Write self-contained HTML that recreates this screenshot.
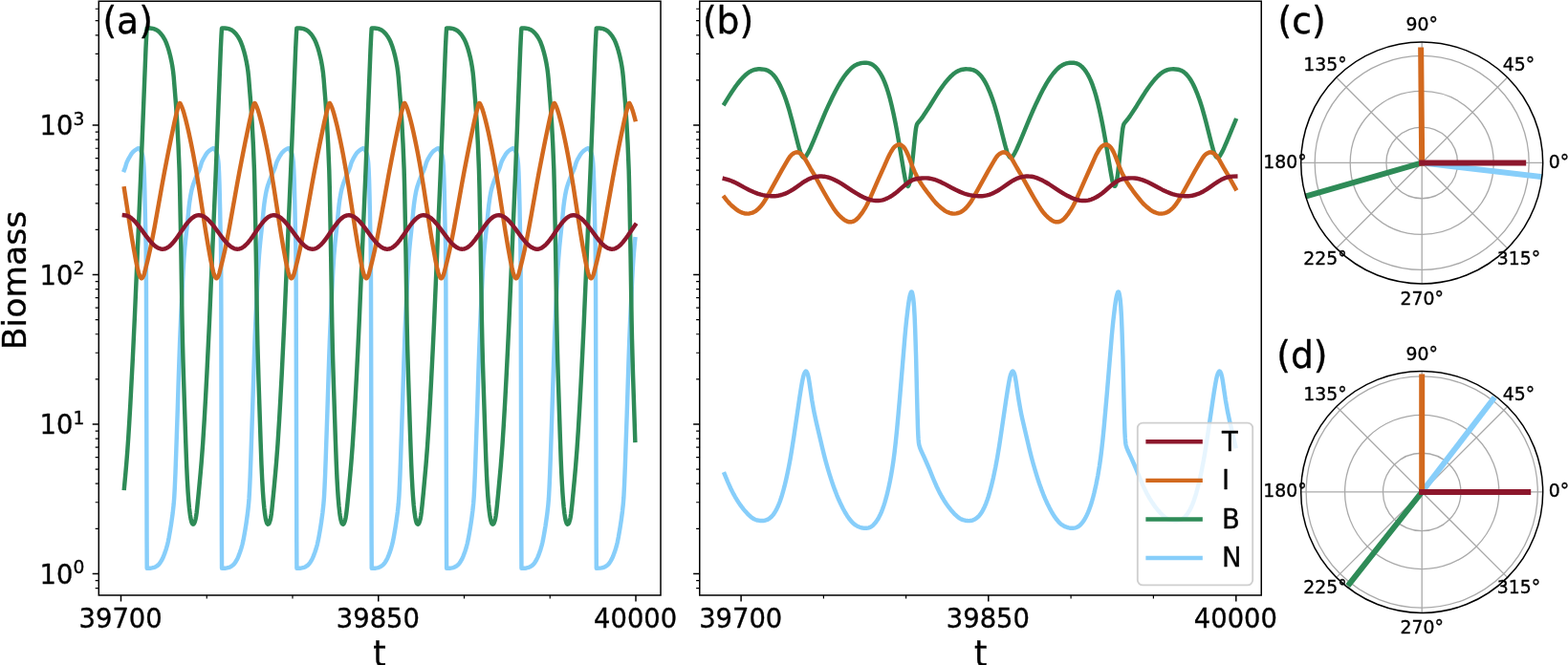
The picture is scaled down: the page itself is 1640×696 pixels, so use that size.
<!DOCTYPE html>
<html lang="en">
<head>
<meta charset="utf-8">
<title>Biomass dynamics</title>
<style>html,body{margin:0;padding:0;background:#fff;}svg{display:block;}</style>
</head>
<body>
<svg width="1640" height="696" viewBox="0 0 1640 696" font-family='"DejaVu Sans", "Liberation Sans", sans-serif' fill="#000">
<style>text{stroke:#000;stroke-width:0.35px;stroke-linejoin:round}</style>
<rect x="0" y="0" width="1640" height="696" fill="#fff"/>
<defs>
<clipPath id="ca"><rect x="103.3" y="1.25" width="587.7" height="621.75"/></clipPath>
<clipPath id="cb"><rect x="731.75" y="1.25" width="587.5" height="621.75"/></clipPath>
</defs>
<polyline clip-path="url(#ca)" fill="none" stroke="#87CEFA" stroke-width="4.45" stroke-linejoin="round" stroke-linecap="square" points="129.9,178.08 131.05,175.11 132.35,170.7 133.05,168.92 134.5,166.01 137.25,161.35 137.95,160.35 138.55,159.63 139.55,158.61 140.55,157.72 141.5,157.02 143.35,155.85 144.15,155.45 144.8,155.25 145.25,155.2 145.5,155.28 145.8,155.54 146.15,156.02 147.8,158.97 148.3,160.14 148.75,161.48 149.25,163.55 149.7,166.44 150.15,170.54 150.4,174.18 150.95,186.31 151.35,200.15 152.2,240 152.6,255.02 152.8,271.45 152.95,300 153.55,565.47 153.7,594.8 157,594.68 159,594.41 161.2,593.86 162.15,593.47 163.1,592.98 164.1,592.35 165.15,591.6 166.25,590.55 167.7,588.63 169.45,585.76 170.15,584.36 170.85,582.77 172.55,578.34 173.85,574.46 175,570.39 175.8,567.02 176.7,562.48 178.15,554.2 179.1,548.25 180.65,537.13 181.65,528.09 182.25,520.51 182.85,509.41 183.45,495.3 184.2,474.79 185.7,430.52 186.95,391.02 188.2,355.59 189.25,330.87 191.55,283.4 192.4,270.36 193.35,258.76 194.1,251.13 195.9,234.51 197.5,217.95 198,213.52 198.5,209.91 199.2,205.45 199.9,201.59 200.5,198.78 201.15,196.24 201.95,193.56 202.85,190.94 205.2,184.87 207.8,179.12 208.75,176.85 209.55,174.65 210.8,170.4 211.4,168.92 212.1,167.43 213,165.75 214.7,162.81 216.2,160.48 216.9,159.63 217.95,158.56 218.9,157.72 219.8,157.06 221.6,155.91 222.45,155.47 223.35,155.21 223.65,155.2 223.9,155.31 224.2,155.6 224.55,156.1 226.05,158.76 226.7,160.27 227.25,162 227.65,163.82 228,166.07 228.35,169.02 228.6,171.82 229.1,181.37 229.5,192.58 230.1,217.25 230.55,240 230.95,255.02 231.1,265.38 231.2,279.24 231.35,318.26 231.9,565.47 232.05,594.8 235.4,594.68 237.4,594.4 239.55,593.86 240.5,593.47 241.5,592.95 242.5,592.32 243.55,591.56 244.65,590.49 245.35,589.62 246.15,588.48 247.85,585.66 248.55,584.25 249.25,582.65 251,578.06 252.3,574.14 253.45,570 254.3,566.31 255.2,561.67 256.6,553.61 257.55,547.58 259,537.13 259.9,529.12 260.5,522 261.05,512.5 261.65,499.06 262.35,480.49 264,432.04 265.7,379.21 266.45,358.22 267.1,342.04 269.3,295.17 269.95,282.52 271,267.06 271.6,259.87 272.25,253.07 274.15,235.48 275.7,219.42 276.35,213.52 277.05,208.58 277.8,204 278.55,200.12 279.25,197.17 280.25,193.71 281.4,190.4 283.6,184.76 286.15,179.12 287.15,176.73 287.9,174.65 289.1,170.55 289.95,168.47 291.4,165.66 293.25,162.48 294.2,160.97 294.85,160.09 295.5,159.36 296.4,158.46 297.3,157.68 298.3,156.96 300.5,155.61 301.45,155.26 301.95,155.2 302.15,155.25 302.45,155.48 302.8,155.94 304.15,158.28 304.8,159.63 305.35,161.15 305.8,162.81 306.15,164.7 306.5,167.24 306.85,170.54 307.3,178.04 307.8,190.88 308.4,215 308.9,240 309.3,255.02 309.5,271.45 309.65,300 310.25,565.47 310.4,594.8 313.75,594.68 315.8,594.39 317.95,593.84 318.9,593.45 319.9,592.92 321.9,591.56 323.05,590.43 323.75,589.55 324.55,588.4 326.25,585.57 326.95,584.14 327.7,582.41 329.45,577.78 330.7,573.97 331.85,569.8 332.7,566.07 333.65,561.12 335.05,553.01 336.05,546.57 337.4,536.74 338.3,528.61 338.9,521.27 339.45,511.49 340.05,497.83 340.7,480.49 342.35,432.04 344.05,379.21 344.8,358.22 345.45,342.04 347.65,295.17 348.3,282.52 349.3,267.7 350.45,254.56 352.55,235 354,219.92 354.65,213.92 355.25,209.57 356,204.86 356.7,201.09 357.4,197.95 358.4,194.35 359.6,190.81 361.9,184.87 364.55,179.01 365.55,176.6 366.25,174.65 367.4,170.7 368.1,168.92 369.45,166.19 372.05,161.74 373.2,160.09 374.5,158.7 376.1,157.34 378.3,155.91 379.45,155.35 379.9,155.24 380.35,155.2 380.55,155.28 380.8,155.48 381.3,156.18 382.65,158.57 383.35,160.14 383.95,162 384.35,163.82 384.75,166.44 385.15,170 385.6,177.01 386.1,189.25 386.55,206.38 387.25,240 387.65,255.02 387.85,271.45 388,300 388.6,565.47 388.75,594.8 392.15,594.68 394.25,594.37 395.55,594.07 396.4,593.81 397.35,593.4 398.35,592.86 400.3,591.52 401.45,590.38 402.2,589.42 403,588.25 404.7,585.38 405.4,583.92 406.15,582.16 407.95,577.35 409.2,573.47 410.35,569.2 411.25,565.09 412.25,559.72 413.55,552.09 414.6,545.2 415.85,535.93 416.75,527.56 417.3,520.51 417.85,510.46 418.45,496.57 419.1,479.07 420.7,432.04 422.35,380.67 423.7,344.39 424.55,325.56 426.6,283.4 427.5,269.68 428.6,256.62 430.9,235 432.35,219.92 432.95,214.33 433.5,210.25 434.25,205.45 434.95,201.59 435.6,198.57 436.65,194.68 437.85,191.08 440.25,184.87 442.9,179.01 443.9,176.6 444.55,174.81 445.65,171.01 446.2,169.51 447.05,167.63 448.1,165.66 450.3,161.9 451.5,160.16 453,158.56 454.55,157.26 457.05,155.69 457.75,155.37 458.35,155.22 458.85,155.25 459.3,155.66 459.75,156.35 461.15,158.86 461.85,160.55 462.45,162.59 462.85,164.7 463.25,167.66 463.55,170.54 463.8,174.18 464.35,186.31 464.8,202.19 465.6,240 465.95,252.71 466.2,271.45 466.35,300 466.95,565.47 467.1,594.8 470.5,594.68 472.7,594.35 473.95,594.06 474.8,593.79 475.8,593.35 476.8,592.8 478.7,591.48 479.3,590.93 479.9,590.26 480.65,589.28 481.5,588.01 482.6,586.2 483.2,585.08 484.65,581.79 486.45,576.92 487.7,572.96 488.8,568.79 489.8,564.07 491.05,557.13 492.25,549.88 493.35,542.36 494.4,534.25 495.2,526.46 495.7,519.72 496.25,509.41 496.85,495.3 497.5,477.65 499.05,432.04 500.65,382.14 502,345.58 502.8,327.67 504.85,285.22 505.65,272.44 506.6,260.43 507.45,251.61 509.3,234.51 510.65,220.42 511.25,214.76 512.35,206.97 512.95,203.44 513.55,200.36 514.1,197.95 514.8,195.35 515.55,192.94 516.45,190.4 518.65,184.76 521.25,179.01 522.25,176.6 522.9,174.81 523.95,171.18 524.45,169.75 525.4,167.63 526.6,165.39 528.4,162.31 529.4,160.76 530.25,159.69 531.55,158.37 533.1,157.12 535.55,155.61 536.2,155.34 536.8,155.21 537.15,155.23 537.45,155.43 538.1,156.35 539.2,158.28 539.7,159.29 540.4,161.15 540.95,163.29 541.45,166.44 541.9,170.54 542.15,174.18 542.45,180.22 542.9,192.58 543.45,215 543.95,240 544.35,255.02 544.55,271.45 544.7,300 545.3,565.47 545.45,594.8 548.75,594.68 550.7,594.42 552.9,593.88 553.8,593.52 554.75,593.03 555.8,592.39 556.85,591.64 557.95,590.61 559.35,588.78 561.05,586.03 562.35,583.36 563.85,579.57 565.3,575.42 566.55,571.15 567.4,567.7 568.2,563.81 569.25,558 570.45,550.84 572.2,538.68 573.25,529.61 573.95,521.27 574.55,510.46 575.15,496.57 575.9,476.22 577.4,432.04 578.75,389.53 580,354.29 581.05,329.8 583.35,282.52 584.2,269.68 585.15,258.22 585.9,250.66 587.65,234.51 589.5,215.63 590.25,209.91 591.25,203.72 592.15,199.21 593.15,195.35 594.4,191.5 596.55,185.86 597.5,183.6 599.75,178.66 600.75,176.2 601.35,174.49 602.4,170.86 602.95,169.39 603.85,167.43 605,165.31 607.1,161.74 608.35,159.97 609.8,158.46 611.25,157.26 613.7,155.71 614.35,155.41 614.95,155.24 615.35,155.2 615.6,155.28 615.9,155.54 616.2,155.94 617.8,158.76 618.25,159.76 618.65,160.84 619.15,162.59 619.55,164.7 619.95,167.66 620.3,171.15 620.8,180.22 621.25,192.58 621.85,217.25 622.3,240 622.7,255.02 622.9,271.45 623.05,300 623.65,565.47 623.8,594.8 627.7,594.63 629.25,594.38 630.9,593.99 632.05,593.56 633.25,592.95 634.55,592.11 635.7,591.22 636.55,590.32 637.5,589.07 638.6,587.37 639.7,585.47 640.4,584.03 641.2,582.16 643.1,577.07 644.55,572.43 645.8,567.48 646.95,561.67 648.5,552.7 649.8,544.15 651,535.1 651.8,527.56 652.35,520.51 653.05,507.24 653.9,486.04 655.75,432.04 657.55,376.31 658.3,355.59 659,338.59 661.15,293.09 661.8,280.82 662.35,272.44 662.95,264.55 663.6,257.14 664.3,250.19"/>
<polyline clip-path="url(#ca)" fill="none" stroke="#2E8B57" stroke-width="4.45" stroke-linejoin="round" stroke-linecap="square" points="129.9,510.95 131.4,494.81 132.3,484.38 133.3,471.56 134.2,458.6 135.2,442.63 136.4,421.8 138.8,375.91 141,329.32 147.1,187.22 152.5,50.65 153.2,36.58 153.6,30.35 153.7,29.52 153.8,29.4 156.9,29.55 158.7,29.72 159.7,29.9 160.8,30.19 162,30.61 163.5,31.25 164.3,31.69 165.3,32.41 166.3,33.29 167.5,34.51 168.8,35.95 170.4,38.11 172,40.79 172.8,42.34 173.6,44.13 174.5,46.39 175.4,48.89 176.7,53.13 178.1,58.51 179.3,63.9 180.3,69.44 181.1,75.03 181.7,80.57 183.9,107.87 185.3,128.65 186.5,151.36 187.6,178.32 188.1,197.24 188.8,231.58 189.5,269.49 190.5,335.05 191,358.73 191.5,377.73 192.1,397.4 194.3,463.89 195.2,487.76 195.9,502.72 196.6,514.82 197.3,524.43 198,532 198.8,538.58 199.7,543.76 200.2,545.71 200.7,547.22 201,547.8 201.6,548.51 201.9,548.69 202.2,548.65 202.6,548.33 203.1,547.7 203.6,546.52 204.3,544.31 204.7,542.67 205.1,540.42 205.6,536.97 206.1,532.76 208.1,512.56 209.8,494.25 210.7,483.77 212.2,463.82 213.8,438.42 215.1,415.44 216.4,390.8 219.1,334.95 225.9,176.43 230.8,51.81 231.5,37.42 231.9,30.99 232,29.84 232.1,29.4 235.2,29.54 237,29.72 238,29.89 239.2,30.21 240.4,30.63 241.9,31.27 242.7,31.72 243.7,32.45 244.7,33.34 245.9,34.56 247.2,36 248.8,38.19 250.5,41.06 251.3,42.66 252.1,44.49 253.8,49.04 255.1,53.31 256.6,59.13 257.7,64.15 258.7,69.75 259.5,75.43 260.1,81.11 262.2,107.21 263.6,127.82 264.8,150.29 265.9,176.8 266.4,195.08 267.1,228.95 267.9,272.53 268.9,337.89 269.4,360.77 270.5,398.93 272.6,462.44 273.5,486.58 274.2,501.76 274.9,514.03 275.6,523.82 276.3,531.53 277.1,538.23 278,543.52 278.4,545.18 279,547.1 279.3,547.73 279.9,548.47 280.3,548.7 280.6,548.63 280.9,548.39 281.4,547.78 281.9,546.66 282.6,544.49 283,542.9 283.4,540.73 283.9,537.34 284.4,533.21 286.4,513.09 288.1,494.81 289,484.38 290.5,464.55 292.1,439.27 293.4,416.36 294.7,391.78 297.4,336.06 304.2,177.64 309.2,50.65 309.9,36.58 310.3,30.35 310.4,29.52 310.5,29.4 313.6,29.55 315.4,29.72 316.4,29.9 317.5,30.19 318.7,30.61 320.2,31.25 321,31.69 322,32.41 323,33.29 324.2,34.51 325.6,36.06 327.2,38.26 328.9,41.16 329.7,42.76 330.5,44.61 332.2,49.19 333.5,53.49 335,59.34 336.1,64.4 337.1,70.07 337.9,75.84 338.5,81.66 340.6,107.87 342,128.65 343.2,151.36 344.3,178.32 344.8,197.24 345.5,231.58 346.2,269.49 347.2,335.05 347.7,358.73 348.2,377.73 348.8,397.4 350.9,460.97 351.8,485.4 352.5,500.78 353.1,511.6 353.7,520.6 354.5,530.05 355.3,537.12 355.7,539.9 356.2,542.77 356.6,544.62 357.2,546.68 357.6,547.64 358,548.19 358.3,548.51 358.6,548.69 358.8,548.69 359.1,548.52 359.8,547.7 360.4,546.22 361,544.31 361.5,542.16 362.1,538.41 362.6,534.53 363.3,528.06 364.6,514.68 366.3,496.46 367.3,484.99 368.8,465.27 370.4,440.11 371.7,417.27 373,392.75 374.5,362.64 375.8,334.95 382.6,176.43 387.5,51.81 388.2,37.42 388.6,30.99 388.7,29.84 388.8,29.4 391.9,29.54 393.7,29.72 394.7,29.89 395.9,30.21 397.1,30.63 398.6,31.27 399.4,31.72 400.4,32.45 401.4,33.34 402.6,34.56 403.9,36 405.5,38.19 407.2,41.06 408,42.66 408.8,44.49 410.5,49.04 411.8,53.31 413.3,59.13 414.4,64.15 415.4,69.75 416.2,75.43 416.8,81.11 418.9,107.21 420.3,127.82 421.5,150.29 422.6,176.8 423.1,195.08 423.8,228.95 424.6,272.53 425.6,337.89 426.1,360.77 427.2,398.93 429.2,459.5 430.1,484.21 430.8,499.77 431.4,510.77 432,519.93 432.7,528.47 433.5,535.94 434.3,541.4 435,544.81 435.6,546.83 436,547.73 436.6,548.47 436.9,548.67 437.1,548.7 437.4,548.56 437.8,548.16 438.1,547.78 438.4,547.19 439.2,544.83 439.7,542.9 440.2,540.1 440.8,535.79 441.6,528.56 442.9,515.2 445.5,486.8 447,467.41 448.5,444.29 449.8,421.8 451.2,395.66 452.7,365.73 454.1,336.06 460.9,177.64 465.9,50.65 466.6,36.58 467,30.35 467.1,29.52 467.2,29.4 470.3,29.55 472.1,29.72 473.1,29.9 474.2,30.19 475.4,30.61 476.9,31.25 477.7,31.69 478.7,32.41 479.7,33.29 480.9,34.51 482.3,36.06 483.9,38.26 485.6,41.16 486.4,42.76 487.2,44.61 488.9,49.19 490.2,53.49 491.7,59.34 492.8,64.4 493.8,70.07 494.6,75.84 495.2,81.66 497.3,107.87 498.7,128.65 499.9,151.36 501,178.32 501.5,197.24 502.2,231.58 502.9,269.49 503.9,335.05 504.4,358.73 504.9,377.73 505.5,397.4 507.5,458.02 508.4,483 509.1,498.76 509.7,509.92 510.3,519.24 511,527.92 511.8,535.53 512.5,540.51 513.3,544.62 513.8,546.38 514.2,547.45 514.4,547.8 514.9,548.42 515.2,548.65 515.4,548.7 515.7,548.6 516,548.33 516.4,547.85 516.7,547.3 517.6,544.66 518.1,542.67 518.6,539.77 519.2,535.37 519.9,529.05 521.2,515.72 523.8,487.4 525.4,466.7 526.9,443.46 528.2,420.9 529.6,394.69 531.1,364.7 532.5,334.95 539.3,176.43 544.2,51.81 544.9,37.42 545.3,30.99 545.4,29.84 545.5,29.4 548.6,29.54 550.4,29.72 551.4,29.89 552.6,30.21 553.8,30.63 555.3,31.27 556.1,31.72 557.1,32.45 558.1,33.34 559.3,34.56 560.7,36.13 562.3,38.34 564,41.25 564.8,42.87 565.6,44.73 567.3,49.34 568.7,54.04 570.2,59.98 571.3,65.18 572.3,71.04 573,76.25 573.6,82.22 575.7,108.55 577,127.82 578.2,150.29 579.3,176.8 579.9,199.44 580.6,234.23 581.3,272.53 582.2,332.11 582.7,356.66 583.2,375.95 583.8,395.85 585.9,459.5 586.7,481.77 587.3,495.61 587.8,505.51 588.4,515.59 589,523.82 589.6,530.55 590.4,537.5 591.1,541.97 591.8,545.18 592.5,547.34 592.8,547.87 593.3,548.47 593.7,548.7 594,548.63 594.3,548.39 594.8,547.78 595.1,547.19 595.4,546.37 596.3,543.34 596.7,541.33 597.3,537.34 598.4,527.55 600.8,502.43 602,489.16 603.5,470.19 604.9,449.19 606.3,425.38 607.7,399.5 609.2,369.82 610.7,338.27 617.6,177.64 622.6,50.65 623.3,36.58 623.7,30.35 623.8,29.52 623.9,29.4 627,29.55 628.8,29.72 629.8,29.9 630.9,30.19 632.1,30.61 633.6,31.25 634.4,31.69 635.4,32.41 636.4,33.29 637.6,34.51 638.9,35.95 640.5,38.11 642.1,40.79 642.9,42.34 643.7,44.13 644.6,46.39 645.5,48.89 646.8,53.13 648.2,58.51 649.4,63.9 650.4,69.44 651.2,75.03 651.8,80.57 654,107.87 655.4,128.65 656.6,151.36 657.7,178.32 658.3,201.7 659,236.89 659.6,269.49 660.6,335.05 661,354.55 662,391.12 664.3,460.97"/>
<polyline clip-path="url(#ca)" fill="none" stroke="#D2691E" stroke-width="4.45" stroke-linejoin="round" stroke-linecap="square" points="129.9,197.35 135.3,232.53 137.7,247.6 139.9,260.45 141.7,270.35 142.9,276.5 143.7,280.16 144.9,285.13 145.5,287.24 145.9,288.29 146.9,290.17 147.3,290.76 147.7,291.15 148.1,291.3 148.3,291.26 148.7,290.98 149.1,290.48 150.3,288.29 150.7,287.21 151.1,285.82 154.5,272.21 157.1,260.77 159.3,250.07 161.7,237.47 169.5,193.71 172.1,179.51 175.5,161.95 178.9,144.97 182.5,127.73 184.5,119 186.5,111.27 187.1,109.3 187.3,108.78 187.7,108.15 187.9,107.95 188.1,107.91 188.3,108.07 188.9,109.04 190.5,112.63 191.5,115.46 192.7,119.47 194.1,124.7 195.9,131.95 197.3,138.05 198.9,145.46 200.5,153.21 202.1,161.42 205.3,179.18 208.1,196.4 213.5,231.56 215.7,245.46 217.9,258.48 220.5,272.73 222.1,280.37 223.3,285.33 223.9,287.39 224.3,288.4 224.7,289.18 225.3,290.25 225.7,290.82 226.1,291.19 226.3,291.28 226.5,291.3 226.9,291.12 227.5,290.41 228.5,288.6 228.9,287.66 229.3,286.37 232.7,272.83 235.3,261.46 237.5,250.83 240.1,237.2 247.9,193.43 250.5,179.24 253.7,162.71 256.7,147.67 260.7,128.43 262.7,119.59 264.9,111.09 265.3,109.76 265.7,108.67 265.9,108.36 266.3,107.92 266.5,107.93 266.7,108.14 267.3,109.14 268.7,112.25 269.7,115 270.9,118.94 272.3,124.12 274.1,131.32 275.7,138.28 277.3,145.7 278.9,153.46 280.5,161.69 283.7,179.48 286.5,196.71 291.7,230.59 293.9,244.54 296.1,257.63 298.7,271.94 300.3,279.72 301.5,284.74 302.3,287.53 302.9,288.89 303.9,290.63 304.5,291.22 304.9,291.29 305.1,291.22 305.7,290.63 306.7,288.89 307.1,288.06 307.7,286.19 311.1,272.63 313.7,261.23 315.9,250.57 318.5,236.93 326.3,193.15 328.9,178.98 332.1,162.45 335.3,146.44 339.1,128.19 341.1,119.39 343.3,110.91 343.7,109.6 344.1,108.58 344.3,108.28 344.5,108.04 344.7,107.91 344.9,107.97 345.3,108.52 345.7,109.24 347.1,112.37 348.1,115.15 349.3,119.11 350.7,124.31 352.5,131.53 354.1,138.5 355.9,146.89 357.5,154.71 358.9,161.95 362.1,179.77 364.9,197.03 370.1,230.91 372.3,244.85 374.5,257.92 377.1,272.2 378.7,279.94 379.9,284.94 380.5,287.08 381.1,288.6 382.1,290.41 382.7,291.12 383.1,291.3 383.3,291.28 383.5,291.19 383.9,290.82 384.5,289.92 385.3,288.4 385.9,286.72 389.3,273.25 391.9,261.92 393.9,252.33 396.1,240.96 398.5,227.86 406.5,182.99 409.7,166.28 413.3,148.16 417.3,128.9 419.3,120 421.9,110.08 422.3,108.89 422.5,108.5 422.9,107.99 423.1,107.9 423.3,108.02 423.9,108.94 425.3,112 426.3,114.7 427.5,118.59 428.9,123.73 430.7,130.9 432.3,137.83 433.9,145.22 435.5,152.96 437.1,161.16 438.9,170.92 440.5,180.06 443.3,197.35 448.5,231.24 450.7,245.16 452.9,258.2 455.5,272.47 457.1,280.16 458.3,285.13 458.9,287.24 459.3,288.29 460.5,290.48 461.1,291.15 461.5,291.3 461.7,291.26 461.9,291.15 462.3,290.76 462.9,289.83 463.7,288.29 464.3,286.55 467.7,273.04 470.3,261.69 472.5,251.08 475.1,237.47 482.9,193.71 485.5,179.51 488.7,162.96 491.7,147.91 495.7,128.66 497.7,119.8 499.9,111.27 500.3,109.92 500.7,108.78 500.9,108.43 501.3,107.95 501.5,107.91 501.7,108.07 502.3,109.04 503.7,112.12 504.7,114.85 505.9,118.76 507.3,123.92 509.1,131.11 510.7,138.05 512.5,146.41 514.1,154.21 515.7,162.48 518.9,180.36 521.7,197.67 526.7,230.27 528.9,244.23 531.1,257.35 533.7,271.68 535.3,279.5 536.5,284.54 537.1,286.76 537.7,288.4 538.7,290.25 539.3,291.03 539.7,291.28 539.9,291.3 540.1,291.24 540.5,290.93 541.1,290.09 542.1,288.18 542.5,287.05 545.9,273.66 548.5,262.38 550.7,251.83 553.3,238.28 555.7,225.06 561.3,193.43 563.9,179.24 567.1,162.71 570.3,146.68 574.1,128.43 576.1,119.59 578.3,111.09 578.7,109.76 579.1,108.67 579.3,108.36 579.7,107.92 579.9,107.93 580.1,108.14 580.7,109.14 582.1,112.25 583.1,115 584.3,118.94 585.7,124.12 587.5,131.32 589.1,138.28 590.9,146.65 592.5,154.46 594.1,162.75 597.3,180.66 599.9,196.71 605.1,230.59 607.3,244.54 609.5,257.63 612.1,271.94 613.7,279.72 614.9,284.74 615.5,286.93 616.1,288.5 617.1,290.33 617.7,291.08 618.1,291.29 618.3,291.29 618.5,291.22 618.9,290.88 619.5,290 620.5,288.06 620.9,286.89 624.5,272.63 626.1,265.76 627.5,259.37 629.5,249.56 631.7,238.01 640.9,186.52 642.9,175.82 645.5,162.45 649.1,144.48 652.9,126.34 654.3,120.21 656.7,110.91 657.3,109.02 657.5,108.58 657.9,108.04 658.1,107.91 658.3,107.97 658.9,108.85 660.3,111.88 661.5,115.15 662.7,119.11 664.3,125.09"/>
<polyline clip-path="url(#ca)" fill="none" stroke="#8C172C" stroke-width="4.45" stroke-linejoin="round" stroke-linecap="square" points="129.9,225.26 131.4,225.42 132.4,225.67 133.4,226.01 134.9,226.72 136.4,227.65 137.4,228.39 138.9,229.65 140.4,231.1 142.4,233.27 144.9,236.31 147.4,239.6 152.9,247.09 155.9,250.95 158.4,253.85 160.9,256.34 162.4,257.6 163.4,258.33 164.4,258.97 165.4,259.51 166.4,259.96 167.9,260.44 169.9,260.7 170.9,260.66 171.9,260.52 172.9,260.24 173.9,259.85 174.9,259.34 175.9,258.71 176.9,257.99 178.4,256.7 179.9,255.19 180.9,254.08 183.4,251 185.9,247.56 193.4,236.7 195.9,233.42 197.9,231.08 199.4,229.54 200.4,228.63 201.4,227.81 202.9,226.79 204.4,226.01 205.4,225.65 206.4,225.4 207.4,225.27 208.4,225.26 209.9,225.44 210.9,225.71 211.9,226.07 213.4,226.8 214.4,227.42 215.4,228.12 216.9,229.34 218.4,230.75 219.4,231.78 221.9,234.63 224.9,238.46 232.9,249.26 235.4,252.33 237.9,255.05 239.4,256.48 240.9,257.72 242.4,258.76 243.4,259.33 244.9,260.02 245.9,260.35 246.9,260.56 248.4,260.7 249.4,260.64 250.4,260.49 251.4,260.19 252.4,259.78 253.4,259.25 254.9,258.25 256.9,256.55 258.4,255.03 259.4,253.91 261.9,250.8 264.4,247.35 269.9,239.32 271.9,236.5 274.4,233.24 276.4,230.92 277.9,229.4 278.9,228.5 279.9,227.7 281.4,226.7 282.9,225.95 283.9,225.6 284.9,225.38 285.9,225.26 286.9,225.28 288.4,225.48 289.4,225.76 290.4,226.13 291.4,226.62 292.4,227.19 293.4,227.86 294.9,229.04 296.4,230.41 297.4,231.41 298.9,233.05 300.4,234.81 303.4,238.66 308.9,246.15 311.4,249.45 313.9,252.5 316.4,255.2 317.9,256.61 319.4,257.83 320.9,258.85 321.9,259.41 322.9,259.88 324.4,260.39 325.4,260.58 326.9,260.7 327.9,260.62 328.9,260.45 329.9,260.13 330.9,259.71 331.9,259.16 333.4,258.14 335.4,256.41 337.4,254.31 339.9,251.26 342.9,247.13 348.4,239.1 350.4,236.29 352.9,233.05 354.9,230.76 356.4,229.25 357.4,228.37 358.9,227.24 359.9,226.61 360.9,226.1 362.4,225.55 363.4,225.36 364.4,225.26 365.4,225.29 366.9,225.51 367.9,225.81 368.9,226.2 369.9,226.69 370.9,227.29 371.9,227.97 373.4,229.17 374.9,230.55 375.9,231.57 377.4,233.22 378.9,235 381.9,238.86 387.4,246.35 389.9,249.64 392.4,252.68 394.9,255.35 396.4,256.74 397.4,257.56 398.4,258.3 399.9,259.23 401.4,259.94 402.4,260.28 403.4,260.53 404.9,260.69 405.9,260.66 406.9,260.53 407.9,260.25 408.9,259.87 409.9,259.36 410.9,258.75 411.9,258.02 413.4,256.74 414.9,255.25 415.9,254.14 418.4,251.06 421.4,246.92 428.4,236.77 430.9,233.48 432.9,231.14 434.4,229.59 435.4,228.67 436.4,227.85 437.9,226.82 439.4,226.03 440.4,225.66 441.4,225.41 442.4,225.28 443.4,225.26 444.9,225.43 445.9,225.7 446.9,226.05 448.4,226.78 449.4,227.39 450.4,228.08 451.9,229.3 453.4,230.7 454.4,231.73 455.9,233.39 457.4,235.18 460.4,239.06 467.9,249.19 470.4,252.27 472.9,255 474.4,256.43 475.9,257.68 477.4,258.73 478.4,259.31 479.9,260 480.9,260.33 481.9,260.55 483.4,260.7 484.4,260.65 485.4,260.5 486.4,260.2 487.4,259.8 488.4,259.28 489.4,258.64 490.4,257.91 491.9,256.6 493.4,255.09 494.4,253.97 496.9,250.86 499.4,247.42 504.9,239.39 506.9,236.57 508.9,233.92 510.9,231.53 511.9,230.44 513.4,228.98 514.4,228.12 515.4,227.37 516.4,226.73 517.9,225.97 518.9,225.61 519.9,225.38 521.4,225.25 522.4,225.32 523.4,225.46 524.9,225.91 526.4,226.59 527.4,227.16 528.4,227.83 529.9,229 530.9,229.88 532.4,231.36 533.9,232.99 535.4,234.75 538.4,238.59 543.9,246.08 546.4,249.38 548.9,252.44 551.4,255.15 552.9,256.56 553.9,257.4 554.9,258.16 556.4,259.12 557.9,259.86 558.9,260.22 559.9,260.5 561.4,260.68 562.4,260.68 563.9,260.46 564.9,260.15 565.9,259.73 566.9,259.19 568.4,258.18 570.4,256.46 571.4,255.46 572.9,253.79 575.4,250.67 577.9,247.21 584.9,237.05 587.4,233.73 589.4,231.36 590.9,229.78 591.9,228.85 592.9,228 593.9,227.27 594.9,226.64 595.9,226.12 596.9,225.73 597.9,225.44 599.4,225.26 600.4,225.28 601.9,225.5 603.4,225.97 604.9,226.67 605.9,227.26 606.9,227.94 608.4,229.12 609.9,230.5 610.9,231.51 612.4,233.16 613.9,234.94 616.9,238.79 624.4,248.93 626.9,252.03 628.9,254.28 629.9,255.3 631.4,256.7 632.9,257.9 633.9,258.6 634.9,259.2 636.4,259.92 637.4,260.27 638.4,260.52 639.9,260.69 640.9,260.67 642.4,260.43 643.4,260.1 644.4,259.66 645.9,258.78 647.4,257.66 648.9,256.31 649.9,255.3 651.4,253.62 653.9,250.47 656.4,246.99 661.9,238.96 664.3,235.62"/>
<path d="M103.3,600.4h-6.6M103.3,443.93h-6.6M103.3,287.46h-6.6M103.3,130.99h-6.6" stroke="#000" stroke-width="1.5" fill="none"/>
<path d="M103.3,615.56h-3.6M103.3,607.56h-3.6M103.3,553.3h-3.6M103.3,525.74h-3.6M103.3,506.2h-3.6M103.3,491.03h-3.6M103.3,478.64h-3.6M103.3,468.17h-3.6M103.3,459.09h-3.6M103.3,451.09h-3.6M103.3,396.83h-3.6M103.3,369.27h-3.6M103.3,349.73h-3.6M103.3,334.56h-3.6M103.3,322.17h-3.6M103.3,311.7h-3.6M103.3,302.62h-3.6M103.3,294.62h-3.6M103.3,240.36h-3.6M103.3,212.8h-3.6M103.3,193.26h-3.6M103.3,178.09h-3.6M103.3,165.7h-3.6M103.3,155.23h-3.6M103.3,146.15h-3.6M103.3,138.15h-3.6M103.3,83.89h-3.6M103.3,56.33h-3.6M103.3,36.79h-3.6M103.3,21.62h-3.6M103.3,9.23h-3.6" stroke="#000" stroke-width="1.2" fill="none"/>
<path d="M126.5,623v6.6M395.75,623v6.6M665,623v6.6" stroke="#000" stroke-width="1.5" fill="none"/>
<path d="M216.25,623v3.6M306,623v3.6M485.5,623v3.6M575.25,623v3.6" stroke="#000" stroke-width="1.2" fill="none"/>
<rect x="103.3" y="1.25" width="587.7" height="621.75" fill="none" stroke="#000" stroke-width="1.5"/>
<text transform="translate(126.1,657) scale(1,1.06)" font-size="27.4" text-anchor="middle">39700</text>
<text transform="translate(395.35,657) scale(1,1.06)" font-size="27.4" text-anchor="middle">39850</text>
<text transform="translate(664.6,657) scale(1,1.06)" font-size="27.4" text-anchor="middle">40000</text>
<text transform="translate(41.6,610.5) scale(1,1.06)" font-size="27.4">10<tspan x="34.8" dy="-9.7" font-size="18.7">0</tspan></text>
<text transform="translate(41.6,454.03) scale(1,1.06)" font-size="27.4">10<tspan x="34.8" dy="-9.7" font-size="18.7">1</tspan></text>
<text transform="translate(41.6,297.56) scale(1,1.06)" font-size="27.4">10<tspan x="34.8" dy="-9.7" font-size="18.7">2</tspan></text>
<text transform="translate(41.6,141.09) scale(1,1.06)" font-size="27.4">10<tspan x="34.8" dy="-9.7" font-size="18.7">3</tspan></text>
<text transform="translate(397,697.2) scale(1,1.08)" font-size="34.25" text-anchor="middle">t</text>
<text transform="translate(27.4,293.5) rotate(-90)" font-size="34.55" text-anchor="middle">Biomass</text>
<text transform="translate(107.4,34.7) scale(1,1.02)" font-size="37.7">(a)</text>
<polyline clip-path="url(#cb)" fill="none" stroke="#87CEFA" stroke-width="4.45" stroke-linejoin="round" stroke-linecap="square" points="757.8,496.12 761.3,504.58 764.3,511.23 765.8,514.28 767.3,517.16 768.9,520.04 770.5,522.74 772.2,525.43 774,528.08 775.9,530.68 777.8,533.11 779.7,535.37 781.5,537.34 783.3,539.13 785.1,540.74 786.6,541.92 787.9,542.79 789.2,543.48 790.6,544.03 792.4,544.52 794.6,544.91 796.5,545.09 798.2,545.06 799.6,544.85 801,544.47 802.4,543.91 803.8,543.17 805.1,542.3 806.3,541.31 807.5,540.13 808.6,538.84 809.5,537.63 810.4,536.27 812.2,533.09 814,529.27 815.7,525 817.3,520.32 818.9,514.97 820.5,508.94 822.2,501.86 823.7,495.03 825.2,487.6 826.6,480.04 827.9,472.43 830.3,457.04 836.3,416.23 837.8,406.72 839,399.75 840,394.86 840.4,393.32 840.9,391.75 841.5,390.32 842.2,389.09 842.6,388.62 842.8,388.51 843,388.51 843.3,388.71 843.6,389.08 844.4,390.57 844.9,392.02 845.4,394.01 845.9,396.61 846.4,399.69 849.3,419.07 850.7,427.06 851.8,432.84 853.9,442.46 860.1,468.83 861.9,476.15 863.6,482.58 865.5,489.31 867.6,496.31 869.6,502.6 871.5,508.2 873.4,513.43 875.3,518.29 877.3,523.03 879.5,527.83 881.7,532.23 883.9,536.26 886,539.71 888.1,542.75 890.2,545.38 892.2,547.47 893.2,548.35 894.2,549.13 895.4,549.93 896.7,550.67 898,551.28 899.3,551.77 900.8,552.21 902.3,552.54 903.8,552.76 905.1,552.83 906.3,552.78 907.5,552.61 908.7,552.31 909.8,551.92 910.8,551.45 911.8,550.84 912.7,550.16 913.6,549.35 915,547.84 916.5,545.89 917.9,543.77 919.3,541.33 920.6,538.74 921.9,535.81 923.1,532.77 924.3,529.38 925.5,525.62 926.7,521.46 927.9,516.88 929,512.29 930.1,507.3 931.1,502.36 932.1,497 933.1,491.15 934.4,482.57 935.6,473.39 936.8,462.81 938.1,449.91 939.5,434.79 941.2,415.39 946.4,352.92 947.2,344.08 948.1,335.23 949.7,321.77 950.4,316.64 951,312.83 951.6,309.93 952.4,307.06 952.9,305.85 953.2,305.48 953.4,305.4 953.6,305.51 953.8,305.82 954,306.32 954.3,307.4 954.8,309.92 955.3,313.2 955.6,315.9 956,320.68 956.6,330.64 957.1,342.62 958.1,373.06 959.4,426.52 960,447.64 960.3,454.99 960.6,459.9 960.9,463.24 961.3,465.62 962.1,468.37 963.1,471.04 966.7,478.79 970,486.23 972.1,491.2 976.2,501.26 978.2,505.96 979.9,509.74 981.5,513.08 983.2,516.41 984.9,519.51 987.4,523.71 989.9,527.51 992.6,531.21 995.5,534.79 998.2,537.76 1000.8,540.22 1002.1,541.31 1003.2,542.14 1004.3,542.85 1005.3,543.38 1007.2,544.12 1009.5,544.68 1012.1,545.04 1013.2,545.1 1014.3,545.07 1016,544.83 1017.8,544.29 1019.6,543.46 1021.3,542.38 1022.9,541.04 1024.4,539.45 1025.8,537.63 1027.2,535.45 1028.6,532.9 1030,529.95 1031.3,526.84 1032.6,523.32 1033.7,520.01 1034.7,516.72 1036.8,508.94 1039,499.64 1041.2,489.14 1043.1,478.9 1045.1,466.84 1046.9,455.03 1052.3,418.21 1053.8,408.56 1055.1,400.85 1056.1,395.73 1056.5,394.06 1057,392.34 1057.6,390.75 1058.2,389.59 1058.8,388.71 1059,388.56 1059.2,388.5 1059.5,388.62 1059.8,388.94 1060.6,390.34 1061.2,392.02 1061.7,394.01 1062.6,399.05 1064.7,413.32 1065.7,419.67 1067.1,427.61 1068.2,433.33 1069.2,438.06 1070.4,443.32 1076.6,469.66 1078.8,478.48 1080.7,485.47 1082.8,492.69 1085,499.82 1087.1,506.18 1089.2,512.09 1091.2,517.3 1093.3,522.34 1095.4,526.99 1097.8,531.84 1100.2,536.26 1102.4,539.87 1104.6,543.01 1106.8,545.72 1107.9,546.89 1108.9,547.84 1109.9,548.67 1111,549.48 1112.2,550.23 1113.4,550.87 1114.8,551.48 1116.3,551.99 1117.9,552.4 1119.5,552.69 1120.9,552.81 1122.2,552.81 1123.5,552.66 1124.7,552.4 1125.9,552 1127,551.5 1128,550.91 1129,550.16 1130,549.25 1131,548.19 1132.1,546.84 1133.1,545.46 1134.4,543.44 1135.6,541.33 1136.8,538.95 1138,536.29 1139.1,533.57 1140.2,530.55 1141.3,527.23 1142.3,523.93 1143.4,519.98 1144.4,516.07 1146.4,507.3 1148.3,497.56 1150,487.34 1151.2,478.91 1152.3,470.02 1153.4,459.96 1154.7,446.76 1157.7,413.05 1162.7,352.92 1163.5,344.08 1164.3,336.16 1165.9,322.55 1166.6,317.33 1167.2,313.41 1167.8,310.35 1168.5,307.7 1169.1,306.04 1169.4,305.57 1169.6,305.42 1169.8,305.43 1170,305.64 1170.3,306.32 1170.5,307 1171,309.36 1171.6,313.2 1171.9,315.9 1172.3,320.68 1172.9,330.64 1173.4,342.62 1174.4,373.06 1175.7,426.52 1176.3,447.64 1176.5,452.88 1176.8,458.44 1177.1,462.3 1177.4,464.6 1177.7,466.04 1178,467.12 1178.7,469.24 1179.4,471.04 1182.9,478.57 1186.1,485.76 1188.2,490.72 1193.3,503.17 1195,507.09 1196.6,510.59 1199.4,516.22 1202.4,521.58 1205.4,526.33 1207,528.64 1208.6,530.81 1211.6,534.56 1214.4,537.66 1215.8,539.04 1217.2,540.31 1218.6,541.47 1219.8,542.34 1220.8,542.96 1221.8,543.48 1222.8,543.89 1223.9,544.24 1225.3,544.58 1226.9,544.87 1228.4,545.04 1229.7,545.1 1230.9,545.05 1232,544.89 1233.1,544.63 1234.3,544.21 1235.5,543.67 1236.6,543.05 1237.7,542.3 1238.7,541.49 1239.7,540.55 1240.6,539.56 1241.5,538.45 1242.4,537.19 1244.1,534.4 1245.8,531.05 1247.2,527.84 1248.6,524.17 1249.9,520.32 1251.2,516.03 1252.5,511.28 1253.9,505.69 1255.3,499.64 1256.7,493.11 1259,481.16 1261.2,468.1 1263.2,455.03 1268.6,418.21 1270,409.18 1271.3,401.42 1272.3,396.19 1272.8,394.06 1273.2,392.65 1273.7,391.22 1274.1,390.32 1274.8,389.09 1275.2,388.62 1275.5,388.5 1275.7,388.55 1275.9,388.71 1276.2,389.08 1276.7,389.94 1277.1,390.82 1277.4,391.69 1278,394.01 1278.5,396.61 1279,399.69 1281.9,419.07 1284.1,431.32 1286.1,440.73 1292.3,467.13"/>
<polyline clip-path="url(#cb)" fill="none" stroke="#2E8B57" stroke-width="4.45" stroke-linejoin="round" stroke-linecap="square" points="757.8,108.38 762.6,100.6 765.4,96.24 768.5,91.68 771.4,87.74 774.4,84.02 777.3,80.81 780,78.19 781.2,77.18 782.4,76.28 783.7,75.41 785,74.66 786.3,74.01 787.6,73.48 789,73.03 790.4,72.69 791.8,72.46 793.2,72.34 794.8,72.31 796.7,72.42 798.6,72.63 800.2,72.92 801.4,73.24 802.6,73.69 803.8,74.28 805,75.02 806.9,76.49 808.7,78.23 810.5,80.37 812.2,82.79 813.9,85.6 815.7,89.02 817.5,92.85 819.2,96.86 820.8,101.01 822.4,105.56 824,110.53 825.7,116.24 828.4,126.19 834.7,150.99 835.9,155.38 836.9,158.67 838,161.62 838.5,162.64 839,163.46 839.6,164.18 840.3,164.74 840.8,164.98 841.3,164.95 841.7,164.78 842.3,164.36 842.7,163.95 843.1,163.4 845.3,159.66 847.1,156.04 851.1,146.84 860.9,123.16 863.2,117.74 866.8,109.71 870.8,101.3 874,94.97 877.1,89.3 880,84.45 882.8,80.27 884.6,77.84 886.3,75.73 888.1,73.7 889.8,71.96 891.3,70.59 892.8,69.41 894.3,68.44 895.9,67.6 897.8,66.82 899.7,66.27 901.9,65.86 904.1,65.65 905.9,65.65 907.7,65.86 909.5,66.3 911.1,66.9 912.4,67.57 913.6,68.36 914.9,69.42 916.1,70.58 917.3,71.92 918.5,73.45 919.7,75.16 920.9,77.07 922,79.01 923.1,81.14 924.1,83.26 925.1,85.59 927.1,90.88 929.1,97.07 930.9,103.46 932.7,110.7 934.6,119.2 936.6,128.99 938,136.37 939.5,144.77 945.5,180.67 946.8,187.68 947.5,190.7 948.1,192.64 948.6,193.73 949,194.43 949.3,194.77 949.6,194.9 949.9,194.75 950.3,194.14 950.8,192.99 951.1,192.08 951.7,189.35 952.3,185.69 952.9,181.23 953.7,174.36 955,162.17 956.7,145.3 957.5,138.2 957.9,135.24 958.3,132.96 958.7,131.23 959.1,130.11 959.5,129.36 960.1,128.48 963.3,124.67 965.2,122.07 972.3,111.23 979.2,100.12 982.3,95.33 986.2,89.74 988.1,87.23 990,84.85 992.3,82.2 994.5,79.89 996.5,78.02 998.4,76.49 1000.4,75.17 1002.5,74.06 1004.5,73.27 1006.7,72.69 1008.4,72.43 1010.2,72.31 1012.1,72.35 1014.3,72.55 1016,72.81 1017.5,73.18 1018.9,73.69 1020.2,74.34 1021.6,75.23 1023,76.31 1024.3,77.51 1025.6,78.9 1026.9,80.5 1028.1,82.18 1029.3,84.06 1030.6,86.33 1031.8,88.62 1033.1,91.31 1035.5,96.86 1037.8,102.95 1040.1,109.89 1041.8,115.55 1043.5,121.64 1045.3,128.52 1051,150.99 1052.3,155.73 1053.4,159.27 1054.3,161.62 1054.8,162.64 1055.3,163.46 1055.8,164.08 1056.3,164.52 1056.8,164.86 1057.3,165 1057.8,164.88 1058.4,164.52 1058.9,164.07 1059.3,163.55 1061.4,160.02 1063.2,156.47 1065.3,151.76 1067.2,147.32 1077.3,122.92 1079.7,117.27 1083.7,108.41 1088,99.48 1091.3,93.09 1094.5,87.4 1097.4,82.75 1098.9,80.55 1100.4,78.5 1102.2,76.21 1104.1,74.03 1106,72.06 1107.7,70.5 1109.3,69.27 1110.9,68.27 1112.6,67.41 1114.4,66.72 1116.5,66.16 1118.9,65.77 1121.1,65.63 1123.1,65.73 1125,66.07 1126.9,66.68 1128.6,67.51 1130.2,68.59 1131.4,69.6 1132.5,70.69 1133.6,71.92 1134.7,73.31 1135.8,74.86 1136.9,76.58 1138,78.46 1139,80.34 1140.9,84.4 1142.7,88.93 1144.5,94.17 1146.3,100.16 1148,106.57 1149.7,113.74 1151.5,122.05 1153.3,131.05 1156,145.93 1161.8,180.67 1163,187.2 1163.7,190.31 1164.3,192.37 1164.7,193.33 1165.2,194.28 1165.5,194.68 1165.8,194.89 1166.1,194.83 1166.5,194.33 1166.9,193.49 1167.3,192.41 1167.9,189.88 1168.6,185.69 1169.3,180.42 1170.1,173.45 1172.9,146.25 1173.7,139.02 1174.1,135.92 1174.5,133.47 1174.9,131.61 1175.3,130.34 1175.7,129.53 1176.3,128.61 1179.7,124.55 1181.8,121.62 1188.8,110.92 1195.1,100.76 1197.6,96.85 1200.7,92.25 1203.6,88.27 1205.5,85.83 1207.4,83.55 1209.3,81.44 1211.2,79.5 1212.8,78.02 1214.3,76.79 1215.9,75.67 1217.5,74.71 1219.3,73.84 1221.1,73.18 1223.1,72.67 1225.1,72.39 1227.2,72.31 1229.7,72.45 1232.1,72.77 1234,73.24 1235.5,73.82 1237,74.64 1238.5,75.67 1240,76.94 1241.4,78.34 1242.8,79.99 1244.1,81.74 1245.4,83.73 1246.6,85.78 1247.8,88.03 1250.2,93.07 1252.6,98.89 1254.8,104.97 1257.1,112.17 1259.5,120.54 1261.5,128.13 1266.9,149.46 1269,157.08 1270,160.12 1270.9,162.26 1271.4,163.15 1271.9,163.86 1272.3,164.27 1272.9,164.74 1273.4,164.98 1273.9,164.95 1274.6,164.59 1275.2,164.07 1275.8,163.25 1276.9,161.43 1278.7,158.12 1280.3,154.72 1282.9,148.74 1292.3,126.07"/>
<polyline clip-path="url(#cb)" fill="none" stroke="#D2691E" stroke-width="4.45" stroke-linejoin="round" stroke-linecap="square" points="757.8,206.69 760.3,209.82 762.05,211.89 763.55,213.5 765.05,214.94 767.8,217.29 770.8,219.7 772.55,220.88 774.3,221.8 776.3,222.61 778.3,223.24 780.05,223.57 781.8,223.64 783.8,223.42 786.05,222.89 787.8,222.28 789.55,221.38 790.8,220.54 792.05,219.55 793.55,218.19 794.8,216.91 796.05,215.46 797.3,213.84 798.8,211.72 800.05,209.82 802.55,205.59 807.3,196.87 817.55,178.39 823.8,167.66 824.8,166.01 825.8,164.5 826.8,163.23 827.8,162.16 828.55,161.5 829.55,160.81 831.05,160.01 832.3,159.51 833.3,159.31 834.3,159.37 835.05,159.59 836.05,160.05 837.3,160.8 838.3,161.54 839.05,162.27 839.8,163.16 841.8,166.01 843.8,169.31 847.55,176.02 851.8,183.17 860.8,199.47 865.55,207.76 868.3,212.35 871.3,217.15 873.05,219.78 874.8,222.14 877.05,224.77 879.3,227.02 881.8,229.13 883.05,230.06 884.3,230.86 886.05,231.7 887.05,232.02 888.05,232.24 889.05,232.33 889.8,232.32 890.8,232.18 891.8,231.93 893.3,231.33 894.55,230.6 895.8,229.63 897.05,228.41 898.8,226.43 900.8,223.89 902.55,221.43 904.3,218.68 905.55,216.53 906.8,214.23 909.3,209.08 912.8,201.21 918.8,187.43 924.8,174.14 928.3,166.17 929.55,163.47 930.8,160.99 932.05,158.73 933.55,156.31 934.55,154.91 935.55,153.76 936.55,152.93 938.3,151.89 939.55,151.4 940.55,151.25 941.3,151.34 942.05,151.62 942.8,152.04 943.8,152.77 944.55,153.39 945.3,154.12 946.05,155.07 946.8,156.22 948.05,158.52 949.55,161.72 951.05,165.38 954.05,173.54 955.3,176.71 956.8,180.12 958.8,184.2 961.3,188.74 963.8,192.75 967.05,197.45 970.8,202.49 976.05,209.14 978.55,212.11 979.8,213.45 981.05,214.67 984.3,217.46 987.55,220.03 988.8,220.85 989.8,221.41 991.55,222.21 993.3,222.86 994.8,223.29 996.3,223.56 997.3,223.64 998.3,223.63 1000.3,223.39 1002.8,222.76 1003.8,222.4 1004.8,221.96 1006.55,220.93 1008.3,219.59 1010.3,217.75 1012.05,215.82 1013.3,214.24 1014.8,212.16 1016.3,209.9 1017.8,207.44 1033.55,178.92 1040.05,167.75 1041.55,165.3 1042.3,164.23 1043.3,163 1044.3,161.97 1045.05,161.35 1046.05,160.7 1047.55,159.91 1048.55,159.52 1049.55,159.32 1050.55,159.36 1051.55,159.67 1052.8,160.3 1054.3,161.29 1055.05,161.96 1055.8,162.78 1056.8,164.09 1057.8,165.55 1059.8,168.79 1063.55,175.5 1068.05,183.08 1076.8,198.93 1081.55,207.25 1084.05,211.45 1086.8,215.9 1088.8,218.98 1090.3,221.1 1092.05,223.3 1093.8,225.25 1095.8,227.2 1097.8,228.9 1099.8,230.36 1101.3,231.24 1102.8,231.86 1104.3,232.23 1105.3,232.33 1106.05,232.32 1106.8,232.24 1107.8,232.02 1108.8,231.68 1109.8,231.22 1110.8,230.63 1111.55,230.09 1112.3,229.45 1113.3,228.47 1115.3,226.18 1117.55,223.28 1119.55,220.36 1121.05,217.92 1122.55,215.26 1123.8,212.85 1125.3,209.73 1128.8,201.89 1135.05,187.54 1141.05,174.25 1144.55,166.28 1145.8,163.57 1147.05,161.09 1148.3,158.82 1149.55,156.77 1150.55,155.3 1151.55,154.07 1152.55,153.15 1153.8,152.33 1155.05,151.68 1156.3,151.3 1157.05,151.25 1157.8,151.4 1158.55,151.72 1159.55,152.35 1160.8,153.34 1161.55,154.07 1162.3,155 1163.05,156.14 1164.55,158.92 1166.05,162.18 1167.55,165.9 1170.05,172.74 1171.3,175.97 1172.8,179.47 1174.55,183.12 1176.8,187.35 1179.05,191.12 1181.55,194.9 1185.05,199.78 1188.3,204.03 1193.05,210 1195.05,212.34 1197.05,214.38 1198.8,215.95 1201.3,218.04 1203.05,219.44 1204.3,220.34 1205.3,220.97 1206.55,221.63 1207.8,222.19 1209.3,222.75 1210.55,223.15 1211.8,223.44 1213.05,223.61 1214.05,223.65 1215.3,223.58 1216.55,223.4 1218.05,223.06 1219.3,222.69 1220.3,222.32 1221.3,221.86 1222.3,221.29 1223.3,220.61 1225.55,218.75 1226.8,217.54 1227.8,216.46 1229.3,214.64 1230.8,212.59 1232.55,209.98 1234.05,207.52 1249.8,179.01 1256.3,167.83 1257.8,165.38 1259.3,163.34 1260.3,162.26 1261.05,161.58 1261.8,161.03 1262.8,160.44 1263.8,159.93 1264.8,159.54 1265.8,159.32 1266.8,159.35 1267.8,159.65 1268.8,160.13 1270.05,160.9 1271.05,161.67 1272.05,162.72 1273.05,164.02 1274.3,165.86 1275.8,168.29 1280.05,175.85 1284.05,182.55 1292.3,197.49"/>
<polyline clip-path="url(#cb)" fill="none" stroke="#8C172C" stroke-width="4.45" stroke-linejoin="round" stroke-linecap="square" points="757.8,187.06 759.8,187.55 762.3,188.33 764.8,189.26 767.3,190.33 770.8,192.03 778.8,196.37 783.8,198.93 788.3,201.02 792.3,202.6 795.8,203.66 797.8,204.12 799.8,204.49 802.3,204.85 804.8,205.11 806.8,205.23 808.8,205.25 810.3,205.18 812.3,204.99 814.3,204.68 816.3,204.25 818.3,203.7 819.8,203.2 821.3,202.62 823.3,201.72 826.3,200.14 829.3,198.3 832.3,196.29 838.8,191.73 842.3,189.46 844.3,188.32 845.8,187.55 847.3,186.86 848.8,186.26 850.3,185.75 851.8,185.33 853.3,185.01 855.3,184.72 857.3,184.57 859.3,184.55 861.3,184.66 862.8,184.83 865.3,185.32 866.8,185.75 868.3,186.28 871.8,187.78 875.8,189.78 878.3,191.18 880.8,192.7 891.3,199.58 895.8,202.43 899.8,204.75 903.3,206.51 905.3,207.38 907.3,208.15 909.3,208.81 910.8,209.23 912.8,209.66 914.3,209.89 915.8,210.02 917.3,210.07 918.8,210.03 920.3,209.89 921.8,209.65 923.3,209.3 924.8,208.85 926.3,208.28 927.8,207.63 929.8,206.62 931.8,205.48 933.3,204.52 936.3,202.36 939.3,199.92 946.3,193.85 948.8,191.88 950.8,190.47 953.3,188.98 955.3,188.09 957.3,187.45 959.8,186.95 961.8,186.69 964.3,186.48 966.8,186.38 968.8,186.4 970.8,186.54 972.3,186.73 974.3,187.1 976.3,187.6 978.3,188.22 980.3,188.95 984.3,190.65 987.3,192.13 995.3,196.48 999.8,198.79 1004.3,200.89 1008.3,202.49 1010.3,203.16 1012.3,203.71 1014.3,204.16 1016.3,204.53 1018.8,204.88 1021.3,205.12 1023.3,205.24 1025.3,205.24 1026.8,205.17 1028.8,204.96 1030.8,204.64 1032.3,204.32 1034.3,203.79 1035.8,203.3 1037.3,202.74 1039.3,201.87 1042.3,200.31 1045.3,198.5 1048.3,196.5 1055.3,191.59 1058.3,189.65 1061.3,187.95 1064.3,186.57 1065.8,186.01 1067.3,185.54 1068.8,185.17 1070.3,184.89 1073.3,184.58 1075.3,184.55 1076.8,184.6 1078.8,184.79 1080.3,185.03 1081.8,185.37 1083.3,185.81 1084.8,186.35 1086.8,187.19 1090.8,189.1 1093.8,190.72 1096.8,192.51 1108.3,200.04 1112.8,202.85 1116.8,205.12 1120.3,206.83 1123.8,208.22 1125.8,208.87 1127.3,209.28 1129.3,209.7 1130.8,209.91 1132.3,210.03 1133.8,210.07 1135.3,210.01 1136.8,209.86 1138.3,209.61 1139.8,209.25 1141.3,208.78 1142.8,208.2 1144.3,207.53 1146.3,206.51 1149.3,204.72 1150.8,203.7 1152.8,202.21 1155.8,199.75 1162.8,193.69 1165.3,191.73 1167.3,190.34 1169.3,189.14 1171.3,188.2 1173.3,187.53 1175.8,187 1177.8,186.72 1180.3,186.5 1182.8,186.39 1184.8,186.39 1186.8,186.51 1188.8,186.76 1190.3,187.04 1192.3,187.52 1194.3,188.12 1196.3,188.83 1200.3,190.51 1203.8,192.24 1211.3,196.32 1215.8,198.64 1220.3,200.75 1224.3,202.38 1226.3,203.06 1228.3,203.64 1230.3,204.1 1232.3,204.48 1234.8,204.84 1237.3,205.1 1239.3,205.22 1241.3,205.25 1242.8,205.19 1244.8,205 1246.8,204.7 1248.8,204.27 1250.8,203.73 1252.3,203.23 1253.8,202.66 1255.8,201.77 1258.8,200.19 1261.8,198.37 1264.8,196.36 1271.3,191.8 1274.3,189.83 1277.3,188.1 1280.3,186.69 1281.8,186.11 1283.3,185.63 1284.8,185.24 1286.3,184.94 1289.3,184.6 1292.3,184.56"/>
<path d="M731.75,600.4h-6.6M731.75,443.93h-6.6M731.75,287.46h-6.6M731.75,130.99h-6.6" stroke="#000" stroke-width="1.5" fill="none"/>
<path d="M731.75,615.56h-3.6M731.75,607.56h-3.6M731.75,553.3h-3.6M731.75,525.74h-3.6M731.75,506.2h-3.6M731.75,491.03h-3.6M731.75,478.64h-3.6M731.75,468.17h-3.6M731.75,459.09h-3.6M731.75,451.09h-3.6M731.75,396.83h-3.6M731.75,369.27h-3.6M731.75,349.73h-3.6M731.75,334.56h-3.6M731.75,322.17h-3.6M731.75,311.7h-3.6M731.75,302.62h-3.6M731.75,294.62h-3.6M731.75,240.36h-3.6M731.75,212.8h-3.6M731.75,193.26h-3.6M731.75,178.09h-3.6M731.75,165.7h-3.6M731.75,155.23h-3.6M731.75,146.15h-3.6M731.75,138.15h-3.6M731.75,83.89h-3.6M731.75,56.33h-3.6M731.75,36.79h-3.6M731.75,21.62h-3.6M731.75,9.23h-3.6" stroke="#000" stroke-width="1.2" fill="none"/>
<path d="M775.1,623v6.6M1033.8,623v6.6M1292.8,623v6.6" stroke="#000" stroke-width="1.5" fill="none"/>
<path d="M861.4,623v3.6M947.6,623v3.6M1120.1,623v3.6M1206.4,623v3.6" stroke="#000" stroke-width="1.2" fill="none"/>
<rect x="731.75" y="1.25" width="587.5" height="621.75" fill="none" stroke="#000" stroke-width="1.5"/>
<text transform="translate(774.7,657) scale(1,1.06)" font-size="27.4" text-anchor="middle">39700</text>
<text transform="translate(1033.4,657) scale(1,1.06)" font-size="27.4" text-anchor="middle">39850</text>
<text transform="translate(1292.4,657) scale(1,1.06)" font-size="27.4" text-anchor="middle">40000</text>
<text transform="translate(1025.6,697.2) scale(1,1.08)" font-size="34.25" text-anchor="middle">t</text>
<text transform="translate(734.9,34.7) scale(1,1.02)" font-size="37.7">(b)</text>
<rect x="1189.8" y="442.6" width="120.4" height="169.8" rx="5.5" ry="5.5" fill="#fff" fill-opacity="0.8" stroke="#cccccc" stroke-opacity="0.95" stroke-width="1.85"/>
<path d="M1200.6,462.3H1255.6" stroke="#8C172C" stroke-width="4.45" stroke-linecap="square" fill="none"/>
<text transform="translate(1278,471.7) scale(1,1.05)" font-size="27.4">T</text>
<path d="M1200.6,502.85H1255.6" stroke="#D2691E" stroke-width="4.45" stroke-linecap="square" fill="none"/>
<text transform="translate(1278,512.25) scale(1,1.05)" font-size="27.4">I</text>
<path d="M1200.6,543.4H1255.6" stroke="#2E8B57" stroke-width="4.45" stroke-linecap="square" fill="none"/>
<text transform="translate(1278,552.8) scale(1,1.05)" font-size="27.4">B</text>
<path d="M1200.6,583.95H1255.6" stroke="#87CEFA" stroke-width="4.45" stroke-linecap="square" fill="none"/>
<text transform="translate(1278,593.35) scale(1,1.05)" font-size="27.4">N</text>
<clipPath id="cpc"><circle cx="1487.2" cy="170.45" r="126.5"/></clipPath>
<path d="M1487.2,170.45L1613.7,170.45M1487.2,170.45L1576.65,81M1487.2,170.45L1487.2,43.95M1487.2,170.45L1397.75,81M1487.2,170.45L1360.7,170.45M1487.2,170.45L1397.75,259.9M1487.2,170.45L1487.2,296.95M1487.2,170.45L1576.65,259.9" stroke="#a9a9a9" stroke-width="1.3" fill="none"/>
<circle cx="1487.2" cy="170.45" r="37.3" fill="none" stroke="#a9a9a9" stroke-width="1.3"/>
<circle cx="1487.2" cy="170.45" r="75.0" fill="none" stroke="#a9a9a9" stroke-width="1.3"/>
<circle cx="1487.2" cy="170.45" r="112.0" fill="none" stroke="#a9a9a9" stroke-width="1.3"/>
<path clip-path="url(#cpc)" d="M1487.2,170.45L1626.24,186.78" stroke="#87CEFA" stroke-width="6" stroke-linecap="square" fill="none"/>
<path clip-path="url(#cpc)" d="M1487.2,170.45L1352.69,209.27" stroke="#2E8B57" stroke-width="6" stroke-linecap="square" fill="none"/>
<path clip-path="url(#cpc)" d="M1487.2,170.45L1486.17,52.45" stroke="#D2691E" stroke-width="6" stroke-linecap="square" fill="none"/>
<path clip-path="url(#cpc)" d="M1487.2,170.45L1593.2,170.45" stroke="#8C172C" stroke-width="6" stroke-linecap="square" fill="none"/>
<circle cx="1487.2" cy="170.45" r="126.5" fill="none" stroke="#000" stroke-width="1.5"/>
<text transform="translate(1630.4,175.65)" font-size="18.84" text-anchor="middle">0°</text>
<text transform="translate(1588.46,74.39)" font-size="18.84" text-anchor="middle">45°</text>
<text transform="translate(1487.2,32.45)" font-size="18.84" text-anchor="middle">90°</text>
<text transform="translate(1385.94,74.39)" font-size="18.84" text-anchor="middle">135°</text>
<text transform="translate(1344,175.65)" font-size="18.84" text-anchor="middle">180°</text>
<text transform="translate(1385.94,276.91)" font-size="18.84" text-anchor="middle">225°</text>
<text transform="translate(1487.2,318.85)" font-size="18.84" text-anchor="middle">270°</text>
<text transform="translate(1588.46,276.91)" font-size="18.84" text-anchor="middle">315°</text>
<text transform="translate(1336.5,34.7) scale(1,1.02)" font-size="37.7">(c)</text>
<clipPath id="cpd"><circle cx="1487.2" cy="514.95" r="126.5"/></clipPath>
<path d="M1487.2,514.95L1613.7,514.95M1487.2,514.95L1576.65,425.5M1487.2,514.95L1487.2,388.45M1487.2,514.95L1397.75,425.5M1487.2,514.95L1360.7,514.95M1487.2,514.95L1397.75,604.4M1487.2,514.95L1487.2,641.45M1487.2,514.95L1576.65,604.4" stroke="#a9a9a9" stroke-width="1.3" fill="none"/>
<circle cx="1487.2" cy="514.95" r="40.7" fill="none" stroke="#a9a9a9" stroke-width="1.3"/>
<circle cx="1487.2" cy="514.95" r="80.6" fill="none" stroke="#a9a9a9" stroke-width="1.3"/>
<circle cx="1487.2" cy="514.95" r="121.1" fill="none" stroke="#a9a9a9" stroke-width="1.3"/>
<path clip-path="url(#cpd)" d="M1487.2,514.95L1561.47,418.16" stroke="#87CEFA" stroke-width="6" stroke-linecap="square" fill="none"/>
<path clip-path="url(#cpd)" d="M1487.2,514.95L1411.59,610.69" stroke="#2E8B57" stroke-width="6" stroke-linecap="square" fill="none"/>
<path clip-path="url(#cpd)" d="M1487.2,514.95L1487.2,394.45" stroke="#D2691E" stroke-width="6" stroke-linecap="square" fill="none"/>
<path clip-path="url(#cpd)" d="M1487.2,514.95L1598.2,514.95" stroke="#8C172C" stroke-width="6" stroke-linecap="square" fill="none"/>
<circle cx="1487.2" cy="514.95" r="126.5" fill="none" stroke="#000" stroke-width="1.5"/>
<text transform="translate(1630.4,520.15)" font-size="18.84" text-anchor="middle">0°</text>
<text transform="translate(1588.46,418.89)" font-size="18.84" text-anchor="middle">45°</text>
<text transform="translate(1487.2,376.95)" font-size="18.84" text-anchor="middle">90°</text>
<text transform="translate(1385.94,418.89)" font-size="18.84" text-anchor="middle">135°</text>
<text transform="translate(1344,520.15)" font-size="18.84" text-anchor="middle">180°</text>
<text transform="translate(1385.94,621.41)" font-size="18.84" text-anchor="middle">225°</text>
<text transform="translate(1487.2,663.35)" font-size="18.84" text-anchor="middle">270°</text>
<text transform="translate(1588.46,621.41)" font-size="18.84" text-anchor="middle">315°</text>
<text transform="translate(1335.2,384.7) scale(1,1.02)" font-size="37.7">(d)</text>
</svg>
</body>
</html>
